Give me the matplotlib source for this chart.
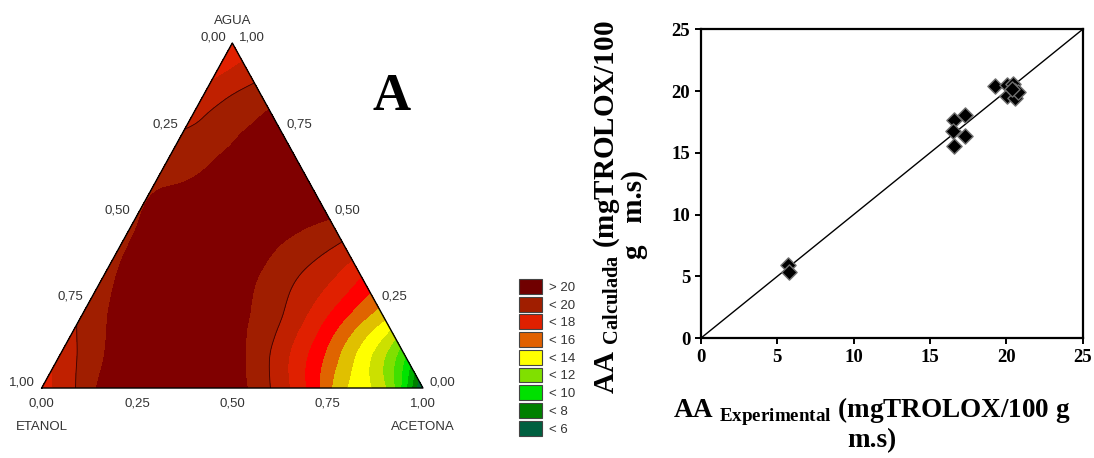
import matplotlib
matplotlib.use("Agg")
import matplotlib.pyplot as plt
import matplotlib.tri as mtri
from matplotlib.patches import Patch
import numpy as np

plt.rcParams["mathtext.fontset"] = "custom"
plt.rcParams["mathtext.rm"] = "Liberation Serif"
plt.rcParams["mathtext.bf"] = "Liberation Serif:bold"

# ---- ternary surface: AA on a 0.1 simplex lattice ----
# one row per agua fraction; inside a row acetona goes 0, 0.1, ... (etanol = rest)
agua_rows = [0.0, 0.1, 0.2, 0.3, 0.4, 0.5, 0.6, 0.7, 0.8, 0.9, 1.0]
acetona_step = 0.1
aa_grid = [
    [17.5, 19.2, 20.8, 20.9, 20.7, 20.4, 19.0, 16.8, 14.0, 12.1, 5.5],
    [18.4, 19.8, 20.8, 21.0, 20.7, 19.8, 18.0, 15.8, 13.4, 10.3],
    [19.1, 20.3, 21.0, 21.2, 20.4, 19.4, 17.8, 15.9, 14.05],
    [19.5, 20.6, 21.1, 21.0, 20.1, 19.1, 18.0, 16.5],
    [19.8, 20.6, 21.0, 20.9, 20.1, 19.4, 18.55],
    [19.9, 20.7, 21.0, 20.8, 20.4, 20.1],
    [19.8, 20.1, 20.8, 20.8, 20.4],
    [19.3, 19.7, 20.3, 20.4],
    [18.7, 19.5, 20.05],
    [17.9, 18.74],
    [17.3],
]

band_edges = [0, 6, 7, 8, 9, 10, 11, 12, 13, 14, 15, 16, 17, 18, 19, 20, 30]
band_colors = ["#006048", "#006e30", "#008000", "#00b000", "#00e400", "#40e000",
               "#80e000", "#cce000", "#ffff00", "#e0c000", "#e06400", "#ff0000",
               "#e02000", "#c02000", "#a01e00", "#800000"]

legend_labels = ["> 20", "< 20", "< 18", "< 16", "< 14", "< 12", "< 10", "< 8", "< 6"]
legend_colors = ["#700000", "#a01e00", "#e02000", "#e06000", "#ffff00",
                 "#80e000", "#00e000", "#008000", "#006040"]

tick_fracs = [0.0, 0.25, 0.5, 0.75, 1.0]

# ---- scatter: experimental vs calculated ----
aa_exp = [5.73, 5.78, 16.58, 16.53, 16.58, 17.30, 17.30, 19.26,
          20.03, 20.46, 20.57, 20.03, 20.57, 20.79, 20.35]
aa_calc = [5.93, 5.39, 17.66, 16.80, 15.56, 18.07, 16.37, 20.41,
           20.49, 20.57, 20.03, 19.60, 19.42, 19.95, 20.20]
identity = [0, 25]
axis_ticks = [0, 5, 10, 15, 20, 25]

fig = plt.figure(figsize=(10.94, 4.58), dpi=100)

# ---------------- ternary plot ----------------
ax = fig.add_axes([0.0381, 0.1528, 0.3485, 0.7533])
ax.set_xlim(0, 1)
ax.set_ylim(0, 1)
ax.axis("off")

xs, ys, zs = [], [], []
for w, row in zip(agua_rows, aa_grid):
    for i, z in enumerate(row):
        a = i * acetona_step
        xs.append(a + w / 2)
        ys.append(w)
        zs.append(z)

triang = mtri.Triangulation(np.array(xs), np.array(ys))
refiner = mtri.UniformTriRefiner(triang)
tri_r, z_r = refiner.refine_field(np.array(zs), subdiv=3)
ax.tricontourf(tri_r, z_r, levels=band_edges, colors=band_colors)
ax.tricontour(tri_r, z_r, levels=[19], colors="#3c0000", linewidths=0.6)
ax.plot([0, 1, 0.5, 0], [0, 0, 1, 0], color="black", lw=1.0, clip_on=False)

sans = dict(family="Liberation Sans", fontsize=9.5, color="#333333")
for f in tick_fracs:
    lbl = f"{f:.2f}".replace(".", ",")
    ax.text(f, -0.046, lbl, ha="center", va="center", **sans)
    ax.text((1 - f) / 2 - 0.017, (1 - f) + 0.015, lbl, ha="right", va="center", **sans)
    ax.text(1 - f / 2 + 0.017, f + 0.015, lbl, ha="left", va="center", **sans)

ax.text(0.5, 1.065, "AGUA", ha="center", va="center", **sans)
ax.text(0.0, -0.113, "ETANOL", ha="center", va="center", **sans)
ax.text(1.0, -0.113, "ACETONA", ha="center", va="center", **sans)
ax.text(0.919, 0.843, "A", ha="center", va="center", family="Liberation Serif",
        fontweight="bold", fontsize=38)

handles = [Patch(facecolor=c, edgecolor="#444444", linewidth=0.8) for c in legend_colors]
fig.legend(handles, legend_labels, loc="upper left",
           bbox_to_anchor=(519 / 1094, 1 - 279 / 458), frameon=False,
           prop=dict(family="Liberation Sans", size=9.5), labelcolor="#333333",
           borderpad=0, borderaxespad=0, handlelength=1.75, handleheight=1.35,
           handletextpad=0.55, labelspacing=0.22)

# ---------------- scatter plot ----------------
ax2 = fig.add_axes([0.6405, 0.2614, 0.3492, 0.6747])
ax2.plot(identity, identity, color="black", lw=1.0)
ax2.scatter(aa_exp, aa_calc, marker="D", s=60, facecolor="black",
            edgecolor="#707070", linewidth=1.0, zorder=3)
ax2.set_xlim(0, 25)
ax2.set_ylim(0, 25)
ax2.set_xticks(axis_ticks)
ax2.set_yticks(axis_ticks)
for s in ax2.spines.values():
    s.set_linewidth(1.6)
ax2.tick_params(direction="out", length=4, width=1.4)
for t in ax2.get_xticklabels() + ax2.get_yticklabels():
    t.set_family("Liberation Serif")
    t.set_fontweight("bold")
    t.set_fontsize(13.5)

ax2.set_xlabel("AA $_{\\mathbf{Experimental}}$ (mgTROLOX/100 g\nm.s)",
               family="Liberation Serif", fontweight="bold", fontsize=19.5,
               linespacing=1.0)
ax2.xaxis.set_label_coords(0.448, -0.185)
ax2.set_ylabel("AA $_{\\mathbf{Calculada}}$ (mgTROLOX/100\ng   m.s)  ",
               family="Liberation Serif", fontweight="bold", fontsize=21,
               linespacing=0.92)
ax2.yaxis.set_label_coords(-0.138, 0.424)

fig.savefig("out.png", dpi=100)
